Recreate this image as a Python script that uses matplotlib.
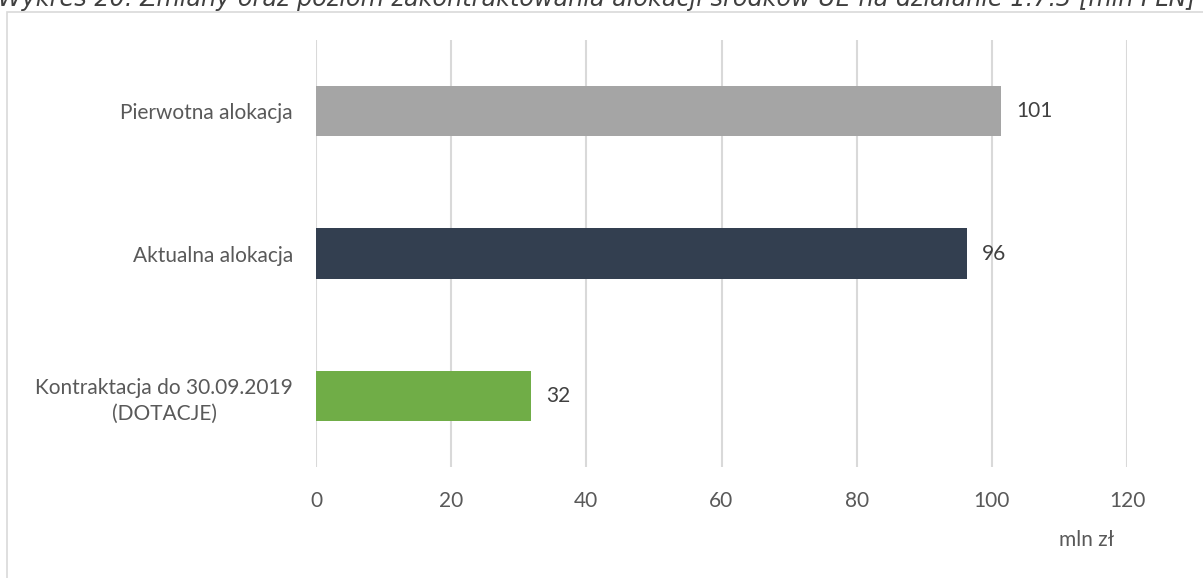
import matplotlib

matplotlib.use("Agg")
import matplotlib.pyplot as plt
from matplotlib.patches import Rectangle

categories = ["Pierwotna alokacja", "Aktualna alokacja", "Kontraktacja do 30.09.2019\n(DOTACJE)"]
values = [101.4, 96.3, 31.8]
colors = ["#A5A5A5", "#333F50", "#70AD47"]
xticks = [0, 20, 40, 60, 80, 100, 120]
title = "Wykres 20. Zmiany oraz poziom zakontraktowania alokacji środków UE na działanie 1.7.3 [mln PLN]"

W, H = 1203, 578
fig = plt.figure(figsize=(W / 100, H / 100), dpi=100)
text_color = "#595959"
font = "Lato"
fs = 15

# outer chart frame, cut off at the right and bottom edges
fig.patches.append(Rectangle((7 / W, -0.1), 1.2, (H - 12) / H + 0.1, transform=fig.transFigure,
                             fill=False, edgecolor="#D9D9D9", linewidth=1.2))

fig.text(-0.002, 1 - 6 / H, title, ha="left", va="baseline", fontsize=17.2, style="italic",
         color="#404040", family="DejaVu Sans")

ax = fig.add_axes([316 / W, 1 - 467 / H, (1127 - 316) / W, 427 / H])
y = list(range(len(categories)))
ax.barh(y, values, height=0.355, color=colors, zorder=3)
for yi, v in zip(y, values):
    ax.text(v + 2.2, yi, f"{v:.0f}", va="center", ha="left", fontsize=fs, color="#404040", family=font)

ax.set_xlim(0, 120)
ax.set_ylim(len(categories) - 0.5, -0.5)
ax.set_xticks(xticks)
ax.set_yticks(y)
ax.set_yticklabels(categories, multialignment="center", linespacing=1.4)
ax.tick_params(axis="both", length=0, labelsize=fs, labelcolor=text_color)
ax.tick_params(axis="x", pad=17)
ax.tick_params(axis="y", pad=16.5)
for lbl in ax.get_xticklabels() + ax.get_yticklabels():
    lbl.set_family(font)
ax.grid(axis="x", color="#D9D9D9", linewidth=1.5, zorder=0)
for s in ax.spines.values():
    s.set_visible(False)

fig.text(1087 / W, 1 - 540 / H, "mln zł", ha="center", va="center", fontsize=fs,
         color=text_color, family=font)

fig.savefig("out.png", dpi=100)
